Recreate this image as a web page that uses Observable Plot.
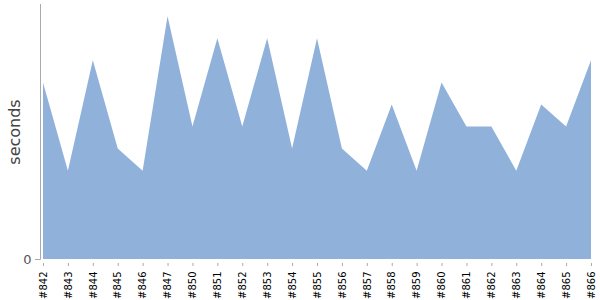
<!DOCTYPE html>
<html><head><meta charset="utf-8">
<script src="https://cdn.jsdelivr.net/npm/d3@7"></script>
<script src="https://cdn.jsdelivr.net/npm/@observablehq/plot@0.6"></script>
<style>body{margin:0;background:#fff;} svg{display:block;}</style>
</head><body><div id="chart"></div>
<script>
const builds = ["#842","#843","#844","#845","#846","#847","#850","#851","#852","#853","#854","#855","#856","#857","#858","#859","#860","#861","#862","#863","#864","#865","#866"];
const seconds = [8,4,9,5,4,11,6,10,6,10,5,10,5,4,7,4,8,6,6,4,7,6,9];
const yTicks = [0];
const data = builds.map((b, i) => ({build: b, seconds: seconds[i]}));
const yMax = 11.55;

const chart = Plot.plot({
  width: 600,
  height: 300,
  marginLeft: 43,
  marginRight: 9,
  marginTop: 4,
  marginBottom: 41,
  style: {fontFamily: "DejaVu Sans", background: "#fff"},
  x: {type: "point", domain: builds, padding: 0, round: false},
  y: {domain: [0, yMax]},
  marks: [
    Plot.areaY(data, {x: "build", y: "seconds", fill: "#8fb1da"}),
    Plot.ruleX([builds[0]], {y1: -0.03, y2: yMax, dx: -3, stroke: "#aaa", strokeWidth: 1}),
    Plot.axisY(yTicks, {anchor: "left", tickSize: 5, dx: -3, tickPadding: 4, fontSize: 13, fill: "#555", stroke: "#aaa", label: null}),
    Plot.text(["seconds"], {frameAnchor: "left", dx: -29, rotate: -90, fontSize: 16, fill: "#444", textAnchor: "middle"}),
    Plot.axisX({anchor: "bottom", tickRotate: -90, tickSize: 3, dy: 4, tickPadding: 5, fontSize: 10, fill: "#000", stroke: "#aaa", label: null})
  ]
});
document.getElementById("chart").appendChild(chart);
</script>
</body></html>
